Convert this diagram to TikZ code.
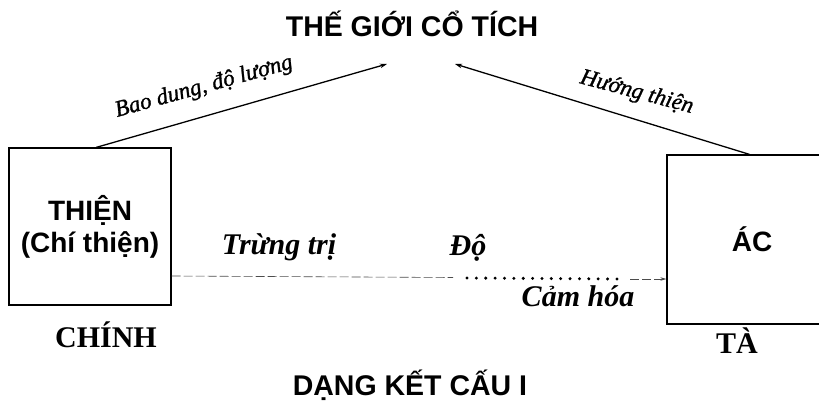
\documentclass[tikz,border=0pt]{standalone}
\usepackage{fontspec}
\setmainfont{Liberation Serif}
\setsansfont{Liberation Sans}
\newfontfamily\slantfont{Liberation Serif}[FakeBold=1.2]
\usetikzlibrary{arrows.meta,calc}
\begin{document}
\begin{tikzpicture}[x=1pt,y=-1pt,
  box/.style={draw, line width=1.3pt, inner sep=0pt, align=center, font=\sffamily\bfseries\fontsize{28}{32}\selectfont},
  sanstitle/.style={font=\sffamily\bfseries\fontsize{28.5}{32}\selectfont, anchor=base, inner sep=0pt},
  serifcap/.style={font=\bfseries\fontsize{30}{34}\selectfont, anchor=base, inner sep=0pt},
  linklabel/.style={font=\bfseries\itshape\fontsize{30}{34}\selectfont, anchor=base, inner sep=0pt},
  slantlabel/.style={font=\slantfont\itshape\fontsize{23}{26}\selectfont, anchor=base west, inner sep=0pt},
  arrowline/.style={line width=1.3pt, -{Stealth[length=7pt,width=4.5pt]}},
  thinline/.style={line width=0.6pt, black!70, dash pattern=on 9pt off 3pt},
  dotline/.style={line width=3.3pt, dash pattern=on 0pt off 9.37pt, line cap=round}
]
\useasboundingbox (0,0) rectangle (819,406);
\fill[white] (0,0) rectangle (819,406);

\node[sanstitle] (title) at (412,37) {THẾ GIỚI CỔ TÍCH};
\node[sanstitle] (kind) at (410,395) {DẠNG KẾT CẤU I};

\node[box, minimum width=162pt, minimum height=157pt] (thien) at (90,226.5) {THIỆN\\(Chí thiện)};
\node[box, minimum width=170pt, minimum height=169pt] (ac) at (752,239.5) {ÁC};

\node[serifcap] (chinh) at (106,347) {CHÍNH};
\node[serifcap] (ta) at (737,353) {TÀ};

\coordinate (tipL) at (387,64);
\coordinate (tipR) at (455,64);
\draw[arrowline] ([xshift=88pt]thien.north west) -- (tipL);
\draw[arrowline] ([xshift=83pt]ac.north west) -- (tipR);

\coordinate (d1) at (453,277.5);
\coordinate (d2) at (467,278);
\coordinate (d3) at (617,279);
\coordinate (d4) at (630,279);
\draw[thinline] ([yshift=-49.5pt]thien.east) -- (d1);
\draw[dotline] (d2) -- (d3);
\draw[thinline, -{Stealth[length=6pt,width=3.5pt]}] (d4) -- ([yshift=-39.5pt]ac.west);

\node[linklabel] (trung) at (279,254) {Trừng trị};
\node[linklabel] (do) at (468,255) {Độ};
\node[linklabel] (camhoa) at (578,306) {Cảm hóa};
\node[slantlabel, rotate=15.5] (bao) at (117,117) {Bao dung, độ lượng};
\node[slantlabel, rotate=-15] (huong) at (579,83) {Hướng thiện};
\end{tikzpicture}
\end{document}
